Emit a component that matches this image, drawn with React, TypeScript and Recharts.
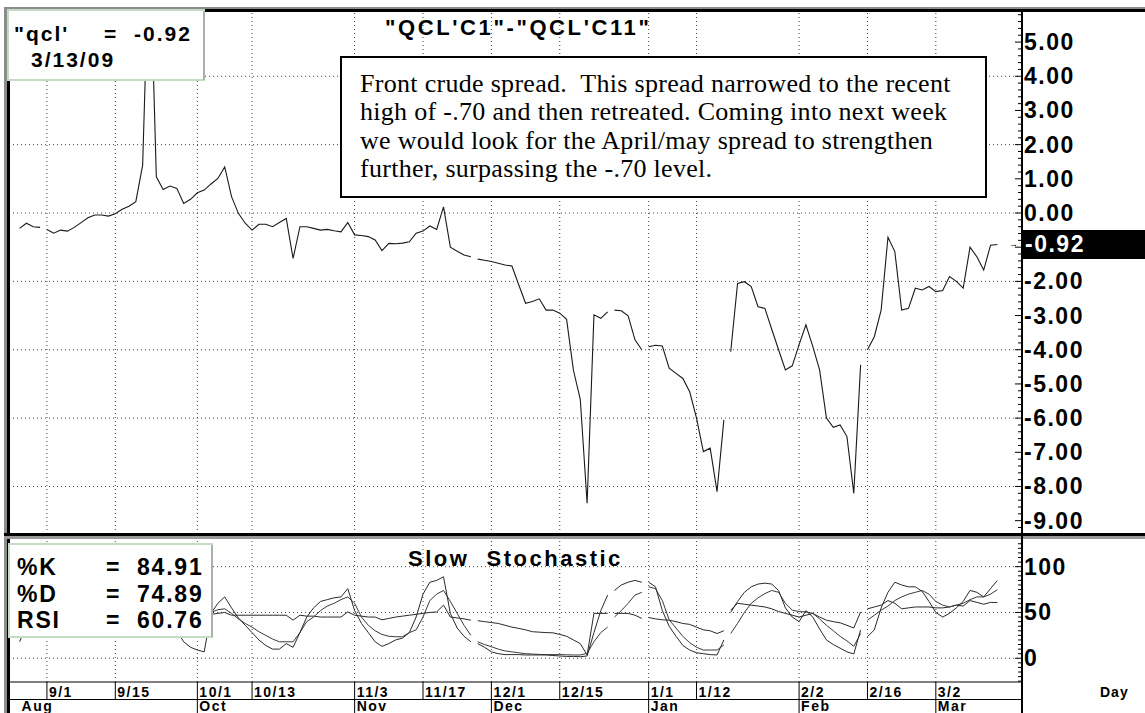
import React from 'react';
import { LineChart, Line, XAxis, YAxis, ReferenceLine } from 'recharts';

// one slot per weekday, 8/26/08 .. 3/13/09 (index 0..143)
const spread = [
  -0.45, -0.30, -0.40, -0.42, -0.48, -0.59, -0.50, -0.53, -0.42, -0.28,
  -0.14, -0.06, -0.06, -0.09, -0.02, 0.11, 0.20, 0.33, 1.40, 8.20,
  1.06, 0.69, 0.79, 0.72, 0.28, 0.40, 0.59, 0.67, 0.85, 1.01,
  1.35, 0.48, -0.01, -0.30, -0.50, -0.33, -0.33, -0.40, -0.28, -0.16,
  -1.33, -0.40, -0.40, -0.45, -0.50, -0.48, -0.52, -0.55, -0.28, -0.64,
  -0.66, -0.69, -0.79, -1.10, -0.89, -0.90, -0.88, -0.84, -0.59, -0.53,
  -0.38, -0.48, 0.18, -1.00, -1.12, -1.23, -1.28, -1.35, -1.38, -1.42,
  -1.47, -1.52, -1.55, -2.10, -2.64, -2.59, -2.51, -2.84, -2.84, -2.93,
  -3.11, -4.60, -5.45, -8.49, -2.98, -3.08, -2.89, -2.84, -2.86, -3.01,
  -3.71, -4.00, -3.91, -3.87, -3.89, -4.54, -4.69, -4.84, -5.23, -6.00,
  -6.98, -6.88, -8.15, -6.05, -4.06, -2.06, -2.01, -2.15, -2.74, -2.79,
  -3.40, -4.00, -4.59, -4.47, -3.85, -3.27, -3.90, -4.59, -6.00, -6.27,
  -6.20, -6.54, -8.20, -4.44, -4.00, -3.62, -2.84, -0.71, -1.13, -2.84,
  -2.79, -2.20, -2.25, -2.15, -2.30, -2.27, -1.86, -2.00, -2.20, -1.00,
  -1.28, -1.67, -0.94, -0.92,
];

const pctK = [
  18, 35, 42, 48, 52, 58, 64, 70, 76, 82,
  86, 88, 87, 89, 91, 93, 94, 96, 98, 98,
  82, 62, 45, 30, 18, 12, 9, 7, 49, 60,
  67, 55, 44, 36, 28, 20, 14, 10, 10, 16,
  12, 28, 45, 55, 62, 64, 66, 67, 76, 52,
  38, 28, 18, 13, 16, 20, 22, 28, 45, 70,
  83, 85, 89, 49, 33, 24, 18, 16, 12, 7,
  5, 4, 4, 4, 3.6, 3.6, 3.6, 3.6, 3, 2.5,
  2, 2, 1.7, 2.5, 28, 52, 69, 74, 80, 83,
  85, 83, 83, 78, 52, 35, 24, 14, 9, 6,
  5, 4, 3.6, 20, 50, 62, 72, 78, 81, 82,
  81, 74, 55, 45, 40, 52, 45, 32, 20, 15,
  11, 7, 4.7, 31, 23.5, 31, 55, 72, 83, 80,
  78, 78, 73, 62, 50, 45, 49, 55, 62, 74,
  72, 67, 76, 84.91,
];

const pctD = [
  40, 38, 37, 38, 42, 47, 52, 58, 64, 70,
  76, 82, 86, 88, 89, 90, 92, 94, 95, 96,
  92, 82, 68, 55, 45, 40, 38, 42, 50, 53,
  54, 49, 43, 38, 34, 29, 25, 21, 18, 18,
  18, 28, 40, 45, 52, 57, 60, 64, 67, 60,
  45, 36, 30, 26, 24, 23.5, 23.5, 28, 31, 45,
  63, 70, 74, 62, 49, 36, 25, 18, 15, 12.6,
  10, 8, 7, 6, 5, 4.6, 4.2, 4, 4, 4,
  3.8, 3.6, 3.6, 5.4, 18, 28, 34, 45, 52, 60,
  69, 72, 78, 76, 63, 42, 33, 24, 17, 12,
  9, 9, 9, 14.5, 27, 38, 50, 60, 66, 70.6,
  74, 72, 60, 52.5, 51, 50.6, 49, 43, 36, 30,
  24, 19, 13, 27, 41.6, 47, 52.5, 57, 63, 67,
  70, 72, 74, 70, 62, 58, 56, 58, 60, 64,
  67, 67, 70, 74.89,
];

const rsi = [
  45, 47, 46, 46, 45, 44, 45, 45, 46, 48,
  49, 49, 49, 49, 50, 51, 52, 53, 60, 72,
  58, 54, 55, 55, 50, 51, 52, 50, 48, 49,
  50, 47, 47, 47, 47, 47, 47, 47, 47, 47,
  41.6, 47, 46, 46, 45, 45, 45, 45, 50.6, 47,
  46, 45, 45, 42, 43.5, 45, 46, 47, 48, 49,
  50, 50.6, 58, 45, 44, 43, 41.6, 41, 40, 39,
  38, 36, 34, 32.6, 31, 29, 28.5, 28, 27.8, 26,
  24, 20, 16, 3.6, 49, 49, 49, 49, 49, 49,
  47, 43.5, 44.5, 43, 42, 41.6, 40, 38, 37, 34,
  31, 30, 27, 30, 52.5, 60, 59, 58, 57, 56,
  54, 51, 49, 47, 45, 47, 49, 45, 41.6, 40,
  38.7, 36, 33, 50.6, 54, 56, 58, 63, 60, 54,
  55, 56, 56, 56, 55, 55, 56, 58, 57, 63,
  61, 59, 61, 60.76,
];

// holidays: the line is not joined from the slot before
const holidayBreaks = [4, 67, 87, 92, 104, 124];

const dayTicks = [4, 14, 26, 34, 49, 59, 69, 79, 92, 99, 114, 124, 134];
const dayLabels = ['9/1', '9/15', '10/1', '10/13', '11/3', '11/17', '12/1', '12/15', '1/1', '1/12', '2/2', '2/16', '3/2'];
const monthTicks = [0, 26, 49, 69, 92, 114, 134];
const monthLabels = ['Aug', 'Oct', 'Nov', 'Dec', 'Jan', 'Feb', 'Mar'];

const priceLabels = [5, 4, 3, 2, 1, 0, -2, -3, -4, -5, -6, -7, -8, -9];
const priceGrid = [4, 2, 0, -2, -4, -6, -8];
const stochLabels = [100, 50, 0];
const stochGrid = [100, 50, 0];

const X_DOMAIN = [-1.4, 146.6];
const PRICE_DOMAIN = [-9.39, 5.88];
const STOCH_DOMAIN = [-25.9, 129.1];

const priceMinor = Array.from({ length: 76 }, (_, k) => Math.round((-9.2 + 0.2 * k) * 10) / 10);
const stochMinor = Array.from({ length: 31 }, (_, k) => -25 + 5 * k);
const dateTicks = Array.from(new Set([...monthTicks, ...dayTicks])).sort((a, b) => a - b);

const rows: any[] = [];
spread.forEach((v, i) => {
  if (holidayBreaks.includes(i)) rows.push({ x: i - 0.5 });
  rows.push({ x: i, spread: v, k: pctK[i], d: pctD[i], rsi: rsi[i] });
});

const FONT = "'Liberation Sans', Arial, sans-serif";
const GRID = '#444';
const DOTS = '1 3';

const PriceTick = (p: any) => {
  const v = p.payload.value;
  const major = Number.isInteger(v);
  return (
    <g>
      <line x1={p.x - (major ? 7 : 4)} x2={p.x} y1={p.y} y2={p.y} stroke="#000" />
      {priceLabels.includes(v) && (
        <text x={p.x + 2} y={p.y + 8} fontFamily={FONT} fontWeight="bold" fontSize={23}
          style={{ letterSpacing: 1.5 }} fill="#000">{v.toFixed(2)}</text>
      )}
    </g>
  );
};

const StochTick = (p: any) => {
  const v = p.payload.value;
  const major = v % 50 === 0;
  return (
    <g>
      <line x1={p.x - (major ? 7 : 4)} x2={p.x} y1={p.y} y2={p.y} stroke="#000" />
      {stochLabels.includes(v) && (
        <text x={p.x + 2} y={p.y + 8} fontFamily={FONT} fontWeight="bold" fontSize={23}
          style={{ letterSpacing: 1.5 }} fill="#000">{v}</text>
      )}
    </g>
  );
};

const makeLeftTick = (isMajor: (v: number) => boolean) => (p: any) => {
  const v = p.payload.value;
  return <line x1={p.x} x2={p.x + (isMajor(v) ? 6 : 3)} y1={p.y} y2={p.y} stroke="#000" />;
};

const DateTick = (p: any) => {
  const v = p.payload.value;
  const di = dayTicks.indexOf(v);
  const mi = monthTicks.indexOf(v);
  return (
    <g fontFamily={FONT} fontWeight="bold" fill="#000">
      {di >= 0 && <line x1={p.x} x2={p.x} y1={p.y} y2={p.y + (mi >= 0 ? 31 : 17)} stroke="#000" />}
      {di >= 0 && (
        <text x={p.x + 2} y={p.y + 15} fontSize={14} style={{ letterSpacing: 1.5 }}>{dayLabels[di]}</text>
      )}
      {mi >= 0 && (
        <text x={p.x + 2} y={p.y + 29} fontSize={14} style={{ letterSpacing: 1.5 }}>{monthLabels[mi]}</text>
      )}
    </g>
  );
};

const note = [
  'Front crude spread.  This spread narrowed to the recent',
  'high of -.70 and then retreated. Coming into next week',
  'we would look for the April/may spread to strengthen',
  'further, surpassing the -.70 level.',
];

export default function App() {
  return (
    <div style={{ position: 'absolute', left: 0, top: 0, width: 1145, height: 713, background: '#fff', overflow: 'hidden' }}>
      <div style={{ position: 'absolute', left: 0, top: 0 }}>
        <LineChart width={1145} height={535} data={rows} margin={{ top: 12, right: 0, bottom: 1, left: 10 }}>
          <XAxis type="number" dataKey="x" domain={X_DOMAIN} hide allowDataOverflow />
          <YAxis yAxisId="p" orientation="right" width={123} domain={PRICE_DOMAIN} allowDataOverflow
            ticks={priceMinor} interval={0} tick={PriceTick} tickLine={false} axisLine={false}
            tickSize={0} tickMargin={0} />
          <YAxis yAxisId="pl" orientation="left" width={0} domain={PRICE_DOMAIN} allowDataOverflow
            ticks={priceMinor} interval={0} tick={makeLeftTick((v) => Number.isInteger(v))}
            tickLine={false} axisLine={false} tickSize={0} tickMargin={0} />
          {priceGrid.map((v) => (
            <ReferenceLine key={'h' + v} yAxisId="p" y={v} stroke={GRID} strokeDasharray={DOTS} />
          ))}
          {dayTicks.map((v) => (
            <ReferenceLine key={'v' + v} yAxisId="p" x={v} stroke={GRID} strokeDasharray={DOTS} />
          ))}
          <Line yAxisId="p" type="linear" dataKey="spread" stroke="#1a1a1a" strokeWidth={1.1}
            dot={false} isAnimationActive={false} />
        </LineChart>
      </div>

      <div style={{ position: 'absolute', left: 0, top: 539 }}>
        <LineChart width={1145} height={174} data={rows} margin={{ top: 1, right: 0, bottom: 0, left: 10 }}>
          <XAxis type="number" dataKey="x" domain={X_DOMAIN} allowDataOverflow height={31}
            ticks={dateTicks} interval={0} tick={DateTick} tickLine={false}
            axisLine={{ stroke: '#000' }} tickSize={0} tickMargin={0} />
          <YAxis yAxisId="s" orientation="right" width={123} domain={STOCH_DOMAIN} allowDataOverflow
            ticks={stochMinor} interval={0} tick={StochTick} tickLine={false} axisLine={false}
            tickSize={0} tickMargin={0} />
          <YAxis yAxisId="sl" orientation="left" width={0} domain={STOCH_DOMAIN} allowDataOverflow
            ticks={stochMinor} interval={0} tick={makeLeftTick((v) => v % 50 === 0)}
            tickLine={false} axisLine={false} tickSize={0} tickMargin={0} />
          {stochGrid.map((v) => (
            <ReferenceLine key={'h' + v} yAxisId="s" y={v} stroke={GRID} strokeDasharray={DOTS} />
          ))}
          {dayTicks.map((v) => (
            <ReferenceLine key={'v' + v} yAxisId="s" x={v} stroke={GRID} strokeDasharray={DOTS} />
          ))}
          <Line yAxisId="s" type="linear" dataKey="rsi" stroke="#2a2a2a" strokeWidth={1} dot={false} isAnimationActive={false} />
          <Line yAxisId="s" type="linear" dataKey="d" stroke="#3a3a3a" strokeWidth={1} dot={false} isAnimationActive={false} />
          <Line yAxisId="s" type="linear" dataKey="k" stroke="#2a2a2a" strokeWidth={1} dot={false} isAnimationActive={false} />
        </LineChart>
      </div>

      <svg width={1145} height={713} style={{ position: 'absolute', left: 0, top: 0, pointerEvents: 'none' }}>
        {/* frame */}
        <rect x={4} y={7} width={1141} height={2} fill="#8c8c8c" />
        <rect x={4} y={7} width={3} height={706} fill="#8c8c8c" />
        <rect x={7} y={9} width={1138} height={3} fill="#000" />
        <rect x={7} y={9} width={3} height={704} fill="#000" />
        <rect x={4} y={533} width={1141} height={3} fill="#000" />
        <rect x={4} y={536} width={1141} height={3} fill="#9a9a9a" />
        <rect x={1021} y={12} width={2} height={701} fill="#000" />
        <rect x={10} y={699} width={1012} height={1} fill="#000" />

        {/* top title */}
        <text x={385} y={35} fontFamily={FONT} fontWeight="bold" fontSize={22} style={{ letterSpacing: 2.6 }}>
          "QCL'C1"-"QCL'C11"
        </text>

        {/* readout box */}
        <rect x={8} y={10} width={196} height={70} fill="#fff" stroke="#c4dcc4" strokeWidth={2} />
        <line x1={204} y1={11} x2={204} y2={80} stroke="#8a8a8a" />
        <g fontFamily={FONT} fontWeight="bold" fontSize={21} style={{ letterSpacing: 2 }}>
          <text x={14} y={41}>"qcl'</text>
          <text x={104} y={41}>=</text>
          <text x={134} y={41}>-0.92</text>
          <text x={31} y={67}>3/13/09</text>
        </g>

        {/* commentary */}
        <rect x={341} y={57} width={645} height={140} fill="#fff" stroke="#000" strokeWidth={2} />
        <g fontFamily="'Liberation Serif', 'Times New Roman', serif" fontSize={26} fill="#000" style={{ letterSpacing: 0.3 }}>
          {note.map((t, i) => (
            <text key={i} x={360} y={92 + i * 28.4} style={{ whiteSpace: 'pre' }}>{t}</text>
          ))}
        </g>

        {/* last value */}
        <rect x={1023} y={230} width={122} height={29} fill="#000" />
        <text x={1025} y={252} fontFamily={FONT} fontWeight="bold" fontSize={23} fill="#fff" style={{ letterSpacing: 1.5 }}>-0.92</text>
        <text x={1009} y={247} fontFamily={FONT} fontSize={9} fill="#000">→</text>

        {/* stochastic title and readout */}
        <text x={408} y={566} fontFamily={FONT} fontWeight="bold" fontSize={22} style={{ letterSpacing: 2.5, whiteSpace: 'pre' }}>
          Slow  Stochastic
        </text>
        <rect x={9} y={544} width={203} height={93} fill="#fff" stroke="#c4dcc4" strokeWidth={2} />
        <line x1={212} y1={545} x2={212} y2={637} stroke="#8a8a8a" />
        <g fontFamily={FONT} fontWeight="bold" fontSize={23} style={{ letterSpacing: 1.8 }}>
          <text x={17} y={575}>%K</text>
          <text x={106} y={575}>=</text>
          <text x={137} y={575}>84.91</text>
          <text x={17} y={602}>%D</text>
          <text x={106} y={602}>=</text>
          <text x={137} y={602}>74.89</text>
          <text x={17} y={628}>RSI</text>
          <text x={106} y={628}>=</text>
          <text x={137} y={628}>60.76</text>
        </g>

        <text x={1100} y={697} fontFamily={FONT} fontWeight="bold" fontSize={14} style={{ letterSpacing: 1 }}>Day</text>
      </svg>
    </div>
  );
}
